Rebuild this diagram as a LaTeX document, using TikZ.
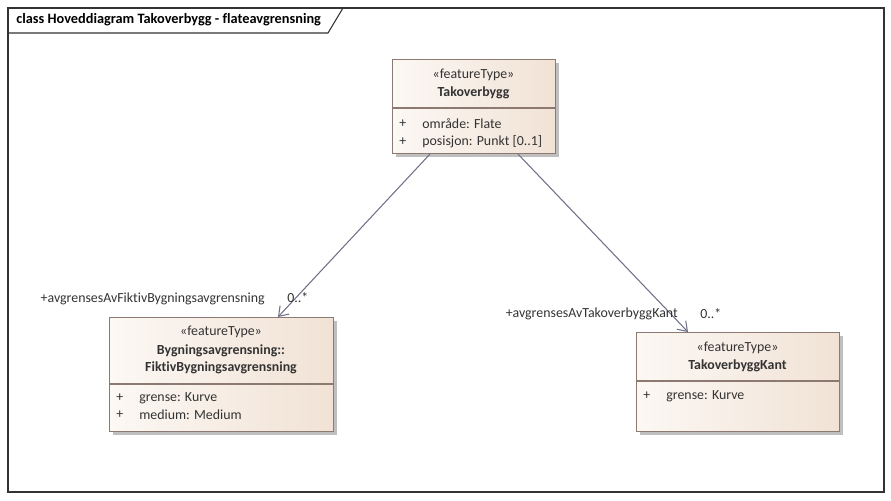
\documentclass[tikz,border=0pt]{standalone}
\usepackage{fontspec}
\setmainfont[Ligatures=NoCommon]{Carlito}
\usetikzlibrary{arrows.meta,shadows}
\definecolor{boxleft}{HTML}{FCF8F4}
\definecolor{boxright}{HTML}{F1E2D5}
\definecolor{boxline}{HTML}{8C7A72}
\definecolor{assocline}{HTML}{6E7188}
\definecolor{txt}{HTML}{333333}
\tikzset{
  classbox/.style={draw=boxline, line width=0.6pt, left color=boxleft, right color=boxright,
    anchor=north west, inner sep=0pt,
    drop shadow={shadow xshift=2pt, shadow yshift=-2pt, fill=black!25, opacity=1}},
  txtlabel/.style={font=\fontsize{7.9}{9.5}\selectfont, text=txt, inner sep=0pt},
  attr/.style={txtlabel, anchor=west},
  stereo/.style={txtlabel},
  cname/.style={txtlabel, font=\fontsize{7.9}{9.5}\selectfont\bfseries, align=center},
  assoc/.style={draw=assocline, line width=0.6pt, -{Straight Barb[length=5pt,width=7pt]}},
}
\begin{document}
\begin{tikzpicture}[x=0.02cm, y=-0.02cm]
    \useasboundingbox (0,0) rectangle (891,500);
    % frame
    \draw[black!80, line width=0.6pt] (8,8) rectangle (884,492);
    \draw[black!80, line width=0.6pt] (8,33) -- (328,33) -- (343,8);
    \node[anchor=west, inner sep=0pt, font=\fontsize{8.15}{9.5}\selectfont\bfseries] (title) at (16,20) {class Hoveddiagram Takoverbygg - flateavgrensning};

    % Takoverbygg
    \node[classbox, minimum width=3.26cm, minimum height=1.88cm] (tak) at (392,59) {};
    \draw[boxline, line width=0.6pt] (392,108) -- (555,108);
    \node[stereo] (takst) at (473.5,75) {«featureType»};
    \node[cname] (takname) at (473.5,93) {Takoverbygg};
    \node[attr] (takp1) at (399,124) {+};
    \node[attr] (takat1) at (422,124) {område: Flate};
    \node[attr] (takp2) at (399,142) {+};
    \node[attr] (takat2) at (422,142) {posisjon: Punkt [0..1]};

    % FiktivBygningsavgrensning
    \node[classbox, minimum width=4.48cm, minimum height=2.28cm] (fiktiv) at (109,317) {};
    \draw[boxline, line width=0.6pt] (109,384) -- (333,384);
    \node[stereo] (fikst) at (221,332) {«featureType»};
    \node[cname] (fikname) at (221,359.5) {Bygningsavgrensning::\\FiktivBygningsavgrensning};
    \node[attr] (fikp1) at (116,398) {+};
    \node[attr] (fikat1) at (139,398) {grense: Kurve};
    \node[attr] (fikp2) at (116,415) {+};
    \node[attr] (fikat2) at (139,415) {medium: Medium};

    % TakoverbyggKant
    \node[classbox, minimum width=4.06cm, minimum height=1.98cm] (kant) at (636,332) {};
    \draw[boxline, line width=0.6pt] (636,381) -- (839,381);
    \node[stereo] (kanst) at (737.5,348) {«featureType»};
    \node[cname] (kanname) at (737.5,366) {TakoverbyggKant};
    \node[attr] (kanp1) at (643,396) {+};
    \node[attr] (kanat1) at (666,396) {grense: Kurve};

    % associations
    \draw[assoc] ([xshift=0.76cm]tak.south west) -- ([xshift=3.38cm]fiktiv.north west);
    \draw[assoc] ([xshift=2.52cm]tak.south west) -- ([xshift=1.04cm]kant.north west);

    \node[txtlabel, anchor=east] (rolefik) at (265,299) {+avgrensesAvFiktivBygningsavgrensning};
    \node[txtlabel, anchor=west] (multfik) at (287,298) {0..*};
    \node[txtlabel, anchor=east] (rolekant) at (678,314) {+avgrensesAvTakoverbyggKant};
    \node[txtlabel, anchor=west] (multkant) at (700,314) {0..*};
\end{tikzpicture}
\end{document}
